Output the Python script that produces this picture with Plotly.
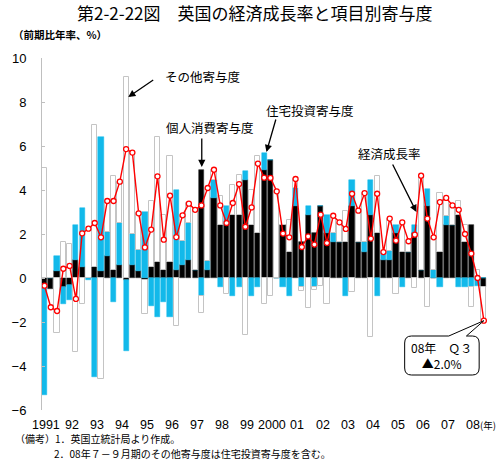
import plotly.graph_objects as go

# ---- data (quarterly, 1991Q1 .. 2008Q3) ----
quarters = list(range(1, 72))
consumption = [-0.3, -0.5, 0.3, -0.4, -0.3, 0.8, 0.5, 0.0, 0.5, 0.3, 0.98, 0.38,
               0.58, -0.1, 0.58, 0.3, -0.1, 0.5, 0.71, 0.38, 0.71, 0.38, 0.58, 0.8,
               0.38, 4.92, 0.38, 3.64, 2.42, 2.42, 2.85, 2.85, 4.47, 2.42, 2.05, 4.92,
               5.35, 0.0, 2.42, 1.2, 3.26, 1.62, 2.85, 2.05, 3.26, 2.05, 1.62, 1.62,
               1.62, 3.26, 1.62, 1.2, 2.85, 2.05, 0.83, 0.83, 2.05, 1.2, 1.2, 2.05,
               0.38, 3.26, 0.0, 1.2, 2.42, 2.42, 2.85, 1.62, 2.42, 0.0, -0.4]
housing = [-5.0, 0.0, 0.7, -0.8, -0.68, 1.6, 2.68, -0.1, -4.5, 6.1, 1.1, -1.1,
           1.92, -3.2, 1.44, 0.99, 3.0, -1.29, -1.79, -1.1, -1.79, 3.64, 1.12, 1.7,
           0.0, -0.8, 0.41, 0.83, -0.4, 0.84, -0.8, -0.4, 0.41, -0.8, -0.4, 0.76,
           0.0, 0.0, -0.4, -0.8, 0.84, -0.4, 0.41, -0.4, 0.0, 0.8, 0.43, 0.0,
           -0.8, 1.21, 0.0, 0.42, 1.62, -0.8, 0.35, 0.38, 0.37, -0.4, 0.0, 0.37,
           0.0, 0.8, 0.38, -0.4, 0.42, 0.0, -0.4, -0.4, -0.4, -0.38, 0.0]
other = [5.0, 0.0, -2.5, 1.64, 1.56, -3.36, -1.2, 0.0, 6.47, -4.59, 1.4, 4.24,
         1.88, 9.14, 3.7, 1.65, -1.52, 2.98, 5.7, 2.5, 4.82, -2.16, 1.15, 0.9,
         2.7, -0.79, 3.3, 0.45, 1.32, -0.73, 1.36, 1.82, -2.6, 1.59, 3.5, -1.2,
         -0.8, 3.94, 0.0, 1.45, 0.4, -0.21, -1.36, -0.13, -0.38, -1.2, 0.78, 0.9,
         1.44, -0.64, 1.44, 2.24, -2.68, 2.57, 0.0, 1.49, -0.72, 1.33, 0.47, -0.45,
         4.27, -1.33, 1.47, 2.66, 0.8, 0.88, 0.65, 0.78, -0.91, 0.38, -1.54]
growth = [-0.35, -1.33, -1.5, 0.42, 0.55, -0.95, 2.03, 2.24, 2.5, 1.85, 3.5, 3.5,
          4.38, 5.86, 5.7, 2.94, 1.39, 2.2, 4.62, 1.74, 3.74, 1.86, 2.85, 3.38,
          3.1, 3.3, 4.09, 4.92, 3.3, 2.5, 3.41, 4.27, 2.33, 3.21, 5.2, 4.56,
          4.55, 3.94, 2.02, 1.85, 4.5, 1.41, 1.89, 1.52, 2.88, 1.59, 2.83, 2.53,
          2.23, 3.83, 3.06, 3.86, 1.79, 3.83, 1.18, 2.7, 1.7, 2.53, 1.67, 1.97,
          4.65, 2.7, 1.85, 3.45, 3.64, 3.3, 3.1, 2.0, 1.11, 0.0, -1.94]
year_labels = ["1991", "92", "93", "94", "95", "96", "97", "98", "99", "2000",
               "01", "02", "03", "04", "05", "06", "07", "08"]
y_ticks = [10, 8, 6, 4, 2, 0, -2, -4, -6]

# ---- layout geometry helpers ----
W, H = 500, 471
ML, MR, MT, MB = 33, 13, 58, 61
PW, PH = W - ML - MR, H - MT - MB
XR = [0.6, 71.5]
YR = [-6, 10]
def px2x(px):
    return XR[0] + (px - ML) / PW * (XR[1] - XR[0])
def py2y(py):
    return YR[1] - (py - MT) / PH * (YR[1] - YR[0])
def px2paper(px):
    return (px - ML) / PW
def py2paper(py):
    return (H - MB - py) / PH

JP = "Noto Sans CJK JP"
NUM = "Liberation Sans Narrow, Liberation Sans, Arial"
CYAN = "#12B9EA"

fig = go.Figure()
fig.add_trace(go.Bar(x=quarters, y=consumption, marker=dict(color="#000000", line=dict(color="#333333", width=0.6)),
                     width=0.82, name="個人消費寄与度"))
fig.add_trace(go.Bar(x=quarters, y=housing, marker=dict(color=CYAN, line=dict(color=CYAN, width=0.5)),
                     width=0.82, name="住宅投資寄与度"))
fig.add_trace(go.Bar(x=quarters, y=other, marker=dict(color="#FFFFFF", line=dict(color="#C4C4C4", width=1)),
                     width=0.82, name="その他寄与度"))
fig.add_trace(go.Scatter(x=quarters, y=growth, mode="lines+markers",
                         line=dict(color="#FF0000", width=1.4),
                         marker=dict(symbol="circle", size=5, color="#FFFFFF",
                                     line=dict(color="#FF0000", width=1.3)),
                         name="経済成長率"))

fig.update_layout(
    width=W, height=H,
    margin=dict(l=ML, r=MR, t=MT, b=MB),
    barmode="relative",
    bargap=0,
    showlegend=False,
    plot_bgcolor="#FFFFFF",
    paper_bgcolor="#FFFFFF",
    xaxis=dict(range=XR, showgrid=False, zeroline=False, showline=False,
               showticklabels=False, ticks=""),
    yaxis=dict(range=YR, tickvals=y_ticks, showgrid=False, zeroline=False,
               showline=True, linecolor="#BFBFBF", linewidth=1,
               ticks="inside", ticklen=3, tickcolor="#BFBFBF",
               ticklabelstandoff=12,
               tickfont=dict(family=NUM, size=13, color="#000000")),
)

annotations = []
# x-axis year labels (placed at the first quarter of each year)
for i, lab in enumerate(year_labels):
    annotations.append(dict(x=1 + 4 * i + 0.3, y=py2paper(425), xref="x", yref="paper",
                            text=lab, showarrow=False, xanchor="center", yanchor="middle",
                            font=dict(family=NUM, size=12.5, color="#000000")))

def ptext(text, px, py, xanchor="left", size=10.5, bold=False):
    annotations.append(dict(xref="paper", yref="paper", x=px2paper(px), y=py2paper(py),
                            xanchor=xanchor, yanchor="middle", showarrow=False,
                            text=f"<b>{text}</b>" if bold else text,
                            font=dict(family=JP, size=size, color="#000000")))

ptext("第2-2-22図　英国の経済成長率と項目別寄与度", 250, 13, xanchor="center", size=17)
ptext("（前期比年率、%）", 1, 34, bold=True)
ptext("(年)", 498, 425, xanchor="right", size=9.5)
ptext("（備考）1．英国立統計局より作成。", 3, 439, size=10)
ptext("2．08年７－９月期のその他寄与度は住宅投資寄与度を含む。", 43, 453, size=10)

# labels with arrows
def label(text, px, py):
    annotations.append(dict(x=px2x(px), y=py2y(py), xref="x", yref="y", text=text,
                            showarrow=False, xanchor="center", yanchor="middle",
                            font=dict(family=JP, size=12.5, color="#000000")))
def arrow(tip_px, tip_py, tail_px, tail_py):
    annotations.append(dict(x=px2x(tip_px), y=py2y(tip_py), xref="x", yref="y",
                            ax=px2x(tail_px), ay=py2y(tail_py), axref="x", ayref="y",
                            text="", showarrow=True, arrowhead=2, arrowsize=1.1,
                            arrowwidth=1.3, arrowcolor="#000000"))

label("その他寄与度", 197, 76)
arrow(121, 97, 148, 79)
label("個人消費寄与度", 204, 127)
arrow(196, 167, 196, 137)
label("住宅投資寄与度", 306, 110)
arrow(262, 152, 272, 118)
label("経済成長率", 388, 153)
arrow(415, 212, 390, 163)

# callout for last point
last_x = quarters[-1]
last_y = growth[-1]
bx0, bx1 = px2x(403), px2x(479)
by0, by1 = py2y(336), py2y(375)
rx = px2x(403 + 7) - bx0
ry = py2y(336) - py2y(336 + 7)
t0, t1 = px2x(448), px2x(466)
path = (f"M {bx0 + rx},{by0} L {t0},{by0} L {last_x},{last_y} L {t1},{by0} L {bx1 - rx},{by0} "
        f"Q {bx1},{by0} {bx1},{by0 - ry} L {bx1},{by1 + ry} Q {bx1},{by1} {bx1 - rx},{by1} "
        f"L {bx0 + rx},{by1} Q {bx0},{by1} {bx0},{by1 + ry} L {bx0},{by0 - ry} "
        f"Q {bx0},{by0} {bx0 + rx},{by0} Z")
fig.add_shape(type="path", path=path, xref="x", yref="y",
              line=dict(color="#000000", width=1), fillcolor="#FFFFFF", layer="above")
annotations.append(dict(x=(bx0 + bx1) / 2, y=(by0 + by1) / 2, xref="x", yref="y",
                        text="08年　Ｑ３<br>▲2.0%", showarrow=False,
                        font=dict(family=JP, size=12, color="#000000")))

fig.update_layout(annotations=annotations)
fig.write_html("out.html")
